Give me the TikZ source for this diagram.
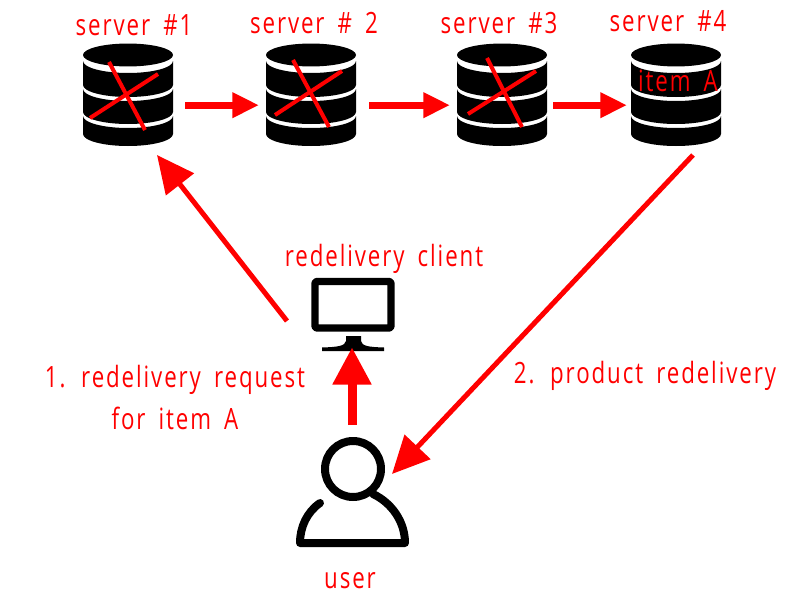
\documentclass[tikz,border=0pt]{standalone}
\usepackage{fontspec}
\setmainfont[FakeStretch=0.76,LetterSpace=6.5,WordSpace=1.7]{Open Sans}
\usetikzlibrary{arrows.meta}
\tikzset{
  lab/.style={text=red,font=\fontsize{22pt}{26pt}\selectfont,inner sep=0pt,anchor=center,align=center},
  hub/.style={inner sep=0pt,outer sep=0pt,minimum width=67.5pt,minimum height=77.25pt},
  link/.style={draw=red,line width=5.25pt,-{Triangle[length=20pt,width=18pt]}},
  thin link/.style={draw=red,line width=3.75pt,-{Triangle[length=28pt,width=26pt]}},
  thick link/.style={draw=red,line width=6.75pt,-{Triangle[length=28pt,width=27.5pt]}},
  xmark/.style={draw=red,line width=3pt},
  icon/.style={draw=black,line width=6pt,line cap=round,line join=round},
}
\newcommand{\Server}[3]{%
 \begin{scope}[shift={(#2,#3)}]
  \node[hub] (#1) at (0,0) {};
  \fill[black] (0,-39.5) ellipse [x radius=33.75pt,y radius=8.6pt];
  \fill[black] (-45,-33.5) arc [start angle=180,end angle=360,x radius=33.75pt,y radius=9pt] -- (45,-9.5)
     arc [start angle=0,end angle=-180,x radius=33.75pt,y radius=9pt] -- cycle;
  \fill[black] (-45,-5.5) arc [start angle=180,end angle=360,x radius=33.75pt,y radius=9pt] -- (45,17.5)
     arc [start angle=0,end angle=-180,x radius=33.75pt,y radius=9pt] -- cycle;
  \fill[black] (-45,21.5) arc [start angle=180,end angle=360,x radius=33.75pt,y radius=9pt] -- (45,39.5)
     arc [start angle=0,end angle=-180,x radius=33.75pt,y radius=9pt] -- cycle;
 \end{scope}}
\begin{document}
\begin{tikzpicture}[x=0.75pt,y=-0.75pt]
\useasboundingbox (0,0) rectangle (800,600);
\Server{s1}{128}{94.5}
\Server{s2}{311}{94.5}
\Server{s3}{502}{94.5}
\Server{s4}{676}{94.5}
% crosses
\draw[xmark] (109,62) -- (145,130);
\draw[xmark] (90,118) -- (158,74);
\draw[xmark] (293,60) -- (329,127);
\draw[xmark] (275,115) -- (342,71);
\draw[xmark] (487,58) -- (522,127);
\draw[xmark] (468,114) -- (536,71);
% client monitor
\node[inner sep=0pt,outer sep=0pt,minimum width=62pt,minimum height=55pt] (client) at (353,315) {};
\draw[black,line width=5.5pt,line join=round,rounded corners=1.5pt] (315,281.5) rectangle (391,328);
\fill[black] (346,336) -- (361,336) -- (361,341) .. controls (362,346) and (368,347) .. (384,347.5)
  -- (384,351) -- (322,351) -- (322,347.5) .. controls (338,347) and (345,346) .. (346,341) -- cycle;
% user
\node[inner sep=0pt,outer sep=0pt,minimum width=84pt,minimum height=84pt] (user) at (353,489) {};
\draw[icon] (353,469) circle [radius=21pt];
\draw[icon] (320,503) .. controls (307,512) and (300,527) .. (300,543) -- (405,543)
  .. controls (405,522) and (392,503) .. (373,494);
% labels
\node[lab] (l1) at (134,25) {server \#1};
\node[lab] (l2) at (314,23) {server \# 2};
\node[lab] (l3) at (499,23) {server \#3};
\node[lab] (l4) at (668,21) {server \#4};
\node[lab] (itema) at (678,81) {item A};
\node[lab] (lclient) at (384,259) {redelivery client};
\node[lab] (lreq) at (175,397) {1. redelivery request\\[5.5pt]for item A};
\node[lab] (lprod) at (645,376) {2. product redelivery};
\node[lab] (luser) at (350,581) {user};
% connectors
\draw[link,shorten <=9pt,shorten >=5.25pt] ([yshift=-8pt]s1.east) -- ([yshift=-8pt]s2.west);
\draw[link,shorten <=9.75pt,shorten >=5.25pt] ([yshift=-8pt]s2.east) -- ([yshift=-8pt]s3.west);
\draw[link,shorten <=4.5pt,shorten >=3pt] ([yshift=-8pt]s3.east) -- ([yshift=-8pt]s4.west);
\coordinate (a1) at ([shift={(-66,6)}]client.center);
\coordinate (a2) at ([shift={(29,60.5)}]s1.center);
\draw[thin link] (a1) -- (a2);
\coordinate (b1) at ([shift={(17,60.5)}]s4.center);
\coordinate (b2) at ([shift={(39,-15)}]user.center);
\draw[thin link] (b1) -- (b2);
\draw[thick link] ([shift={(-1,-8)}]user.north) -- ([shift={(-1,-4.5)}]client.south);
\end{tikzpicture}
\end{document}
